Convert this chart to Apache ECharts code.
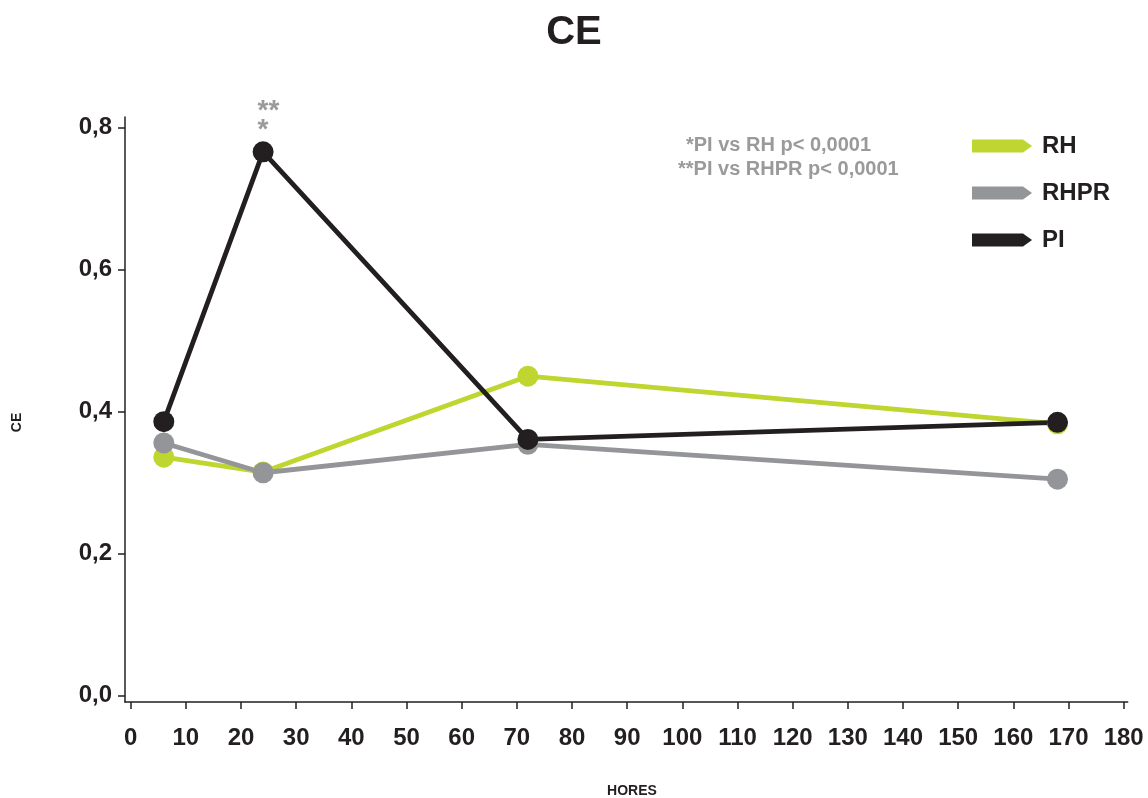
<!DOCTYPE html>
<html>
<head>
<meta charset="utf-8">
<script src="https://cdn.jsdelivr.net/npm/echarts@6/dist/echarts.min.js"></script>
<style>
html,body{margin:0;padding:0;background:#fff;}
#c{width:1148px;height:798px;}
</style>
</head>
<body>
<div id="c"></div>
<script>
// ---- data ----
const hours = [6, 24, 72, 168];
const rh   = [0.336, 0.315, 0.450, 0.383];
const rhpr = [0.356, 0.314, 0.354, 0.305];
const pi   = [0.386, 0.766, 0.361, 0.385];
const seriesNames = ['RH', 'RHPR', 'PI'];
const xTicks = {min: 0, max: 180, interval: 10};
const yTicks = {min: 0, max: 0.8, interval: 0.2};
const notes = ['*PI vs RH p< 0,0001', '**PI vs RHPR p< 0,0001'];
const starLabel = '**\n*';
const starIndex = 1;

const FONT = "'Liberation Sans', Arial, Helvetica, sans-serif";
const INK = '#231f20';
const colors = {RH: '#bed62f', RHPR: '#939598', PI: '#231f20'};

function pairs(vals) { return hours.map((h, i) => [h, vals[i]]); }

const piData = pairs(pi).map((p, i) => i === starIndex ? {
  value: p,
  label: {
    show: true, formatter: starLabel, position: [5, -40],
    align: 'left', verticalAlign: 'top',
    color: '#9a9a9a', fontSize: 28, fontWeight: 'bold', fontFamily: FONT, lineHeight: 19
  }
} : p);

const chart = echarts.init(document.getElementById('c'), null, {renderer: 'canvas'});

function mkSeries(name, data) {
  return {
    name: name, type: 'line', xAxisIndex: 0, yAxisIndex: 0,
    data: data, symbol: 'circle', symbolSize: 21,
    lineStyle: {color: colors[name], width: 4.8},
    itemStyle: {color: colors[name]},
    emphasis: {disabled: true},
    animation: false
  };
}

const hidden = {axisLine: {show: false}, axisTick: {show: false}, axisLabel: {show: false}, splitLine: {show: false}};
const lineOnly = {
  axisLine: {show: true, onZero: false, lineStyle: {color: INK, width: 1.5}},
  axisTick: {show: false}, axisLabel: {show: false}, splitLine: {show: false}
};

const option = {
  backgroundColor: '#fff',
  animation: false,
  title: {
    text: 'CE', left: 'center', top: 13, padding: 0,
    textStyle: {fontSize: 40, fontWeight: 'bold', color: INK, fontFamily: FONT}
  },
  legend: {
    orient: 'vertical', left: 972, top: 134, padding: 0, itemGap: 23,
    itemWidth: 60, itemHeight: 13,
    icon: 'path://M0,0 L51,0 L60,6.5 L51,13 L0,13 Z',
    itemStyle: {borderWidth: 0},
    textStyle: {fontSize: 24, fontWeight: 'bold', color: INK, fontFamily: FONT, padding: [0, 0, 0, 5]},
    data: seriesNames
  },
  grid: [
    {left: 130.7, right: 24.3, top: 127.7, bottom: 102.3},   // data
    {left: 125, right: 20.3, top: 117, bottom: 96},           // axis lines
    {left: 130.7, right: 24.3, top: 127.7, bottom: 96},       // x ticks / labels
    {left: 125, right: 24.3, top: 127.7, bottom: 102.3}       // y ticks / labels
  ],
  xAxis: [
    Object.assign({type: 'value', gridIndex: 0, min: xTicks.min, max: xTicks.max}, hidden),
    Object.assign({type: 'value', gridIndex: 1, min: 0, max: 1}, lineOnly),
    {
      type: 'value', gridIndex: 2, min: xTicks.min, max: xTicks.max, interval: xTicks.interval,
      axisLine: {show: false, onZero: false},
      axisTick: {show: true, length: 7, lineStyle: {color: INK, width: 1.5}},
      axisLabel: {margin: 24, fontSize: 24, fontWeight: 'bold', color: INK, fontFamily: FONT},
      splitLine: {show: false}
    },
    Object.assign({type: 'value', gridIndex: 3, min: 0, max: 1}, hidden)
  ],
  yAxis: [
    Object.assign({type: 'value', gridIndex: 0, min: yTicks.min, max: yTicks.max}, hidden),
    Object.assign({type: 'value', gridIndex: 1, min: 0, max: 1}, lineOnly),
    Object.assign({type: 'value', gridIndex: 2, min: 0, max: 1}, hidden),
    {
      type: 'value', gridIndex: 3, min: yTicks.min, max: yTicks.max, interval: yTicks.interval,
      axisLine: {show: false, onZero: false},
      axisTick: {show: true, length: 7, lineStyle: {color: INK, width: 1.5}},
      axisLabel: {
        margin: 13, fontSize: 24, fontWeight: 'bold', color: INK, fontFamily: FONT,
        formatter: v => v.toFixed(1).replace('.', ',')
      },
      splitLine: {show: false}
    }
  ],
  graphic: [
    {type: 'text', left: 686, top: 135, style: {text: notes[0], fill: '#9a9a9a', font: 'bold 20px ' + FONT}},
    {type: 'text', left: 678, top: 159, style: {text: notes[1], fill: '#9a9a9a', font: 'bold 20px ' + FONT}},
    {type: 'text', x: 632, y: 790.7, style: {text: 'HORES', fill: INK, font: 'bold 14px ' + FONT, textAlign: 'center', textVerticalAlign: 'middle'}},
    {type: 'text', x: 17, y: 422.5, rotation: Math.PI / 2, style: {text: 'CE', fill: INK, font: 'bold 14px ' + FONT, textAlign: 'center', textVerticalAlign: 'middle'}}
  ],
  series: [
    mkSeries('RH', pairs(rh)),
    mkSeries('RHPR', pairs(rhpr)),
    mkSeries('PI', piData)
  ]
};
chart.setOption(option);
</script>
</body>
</html>
